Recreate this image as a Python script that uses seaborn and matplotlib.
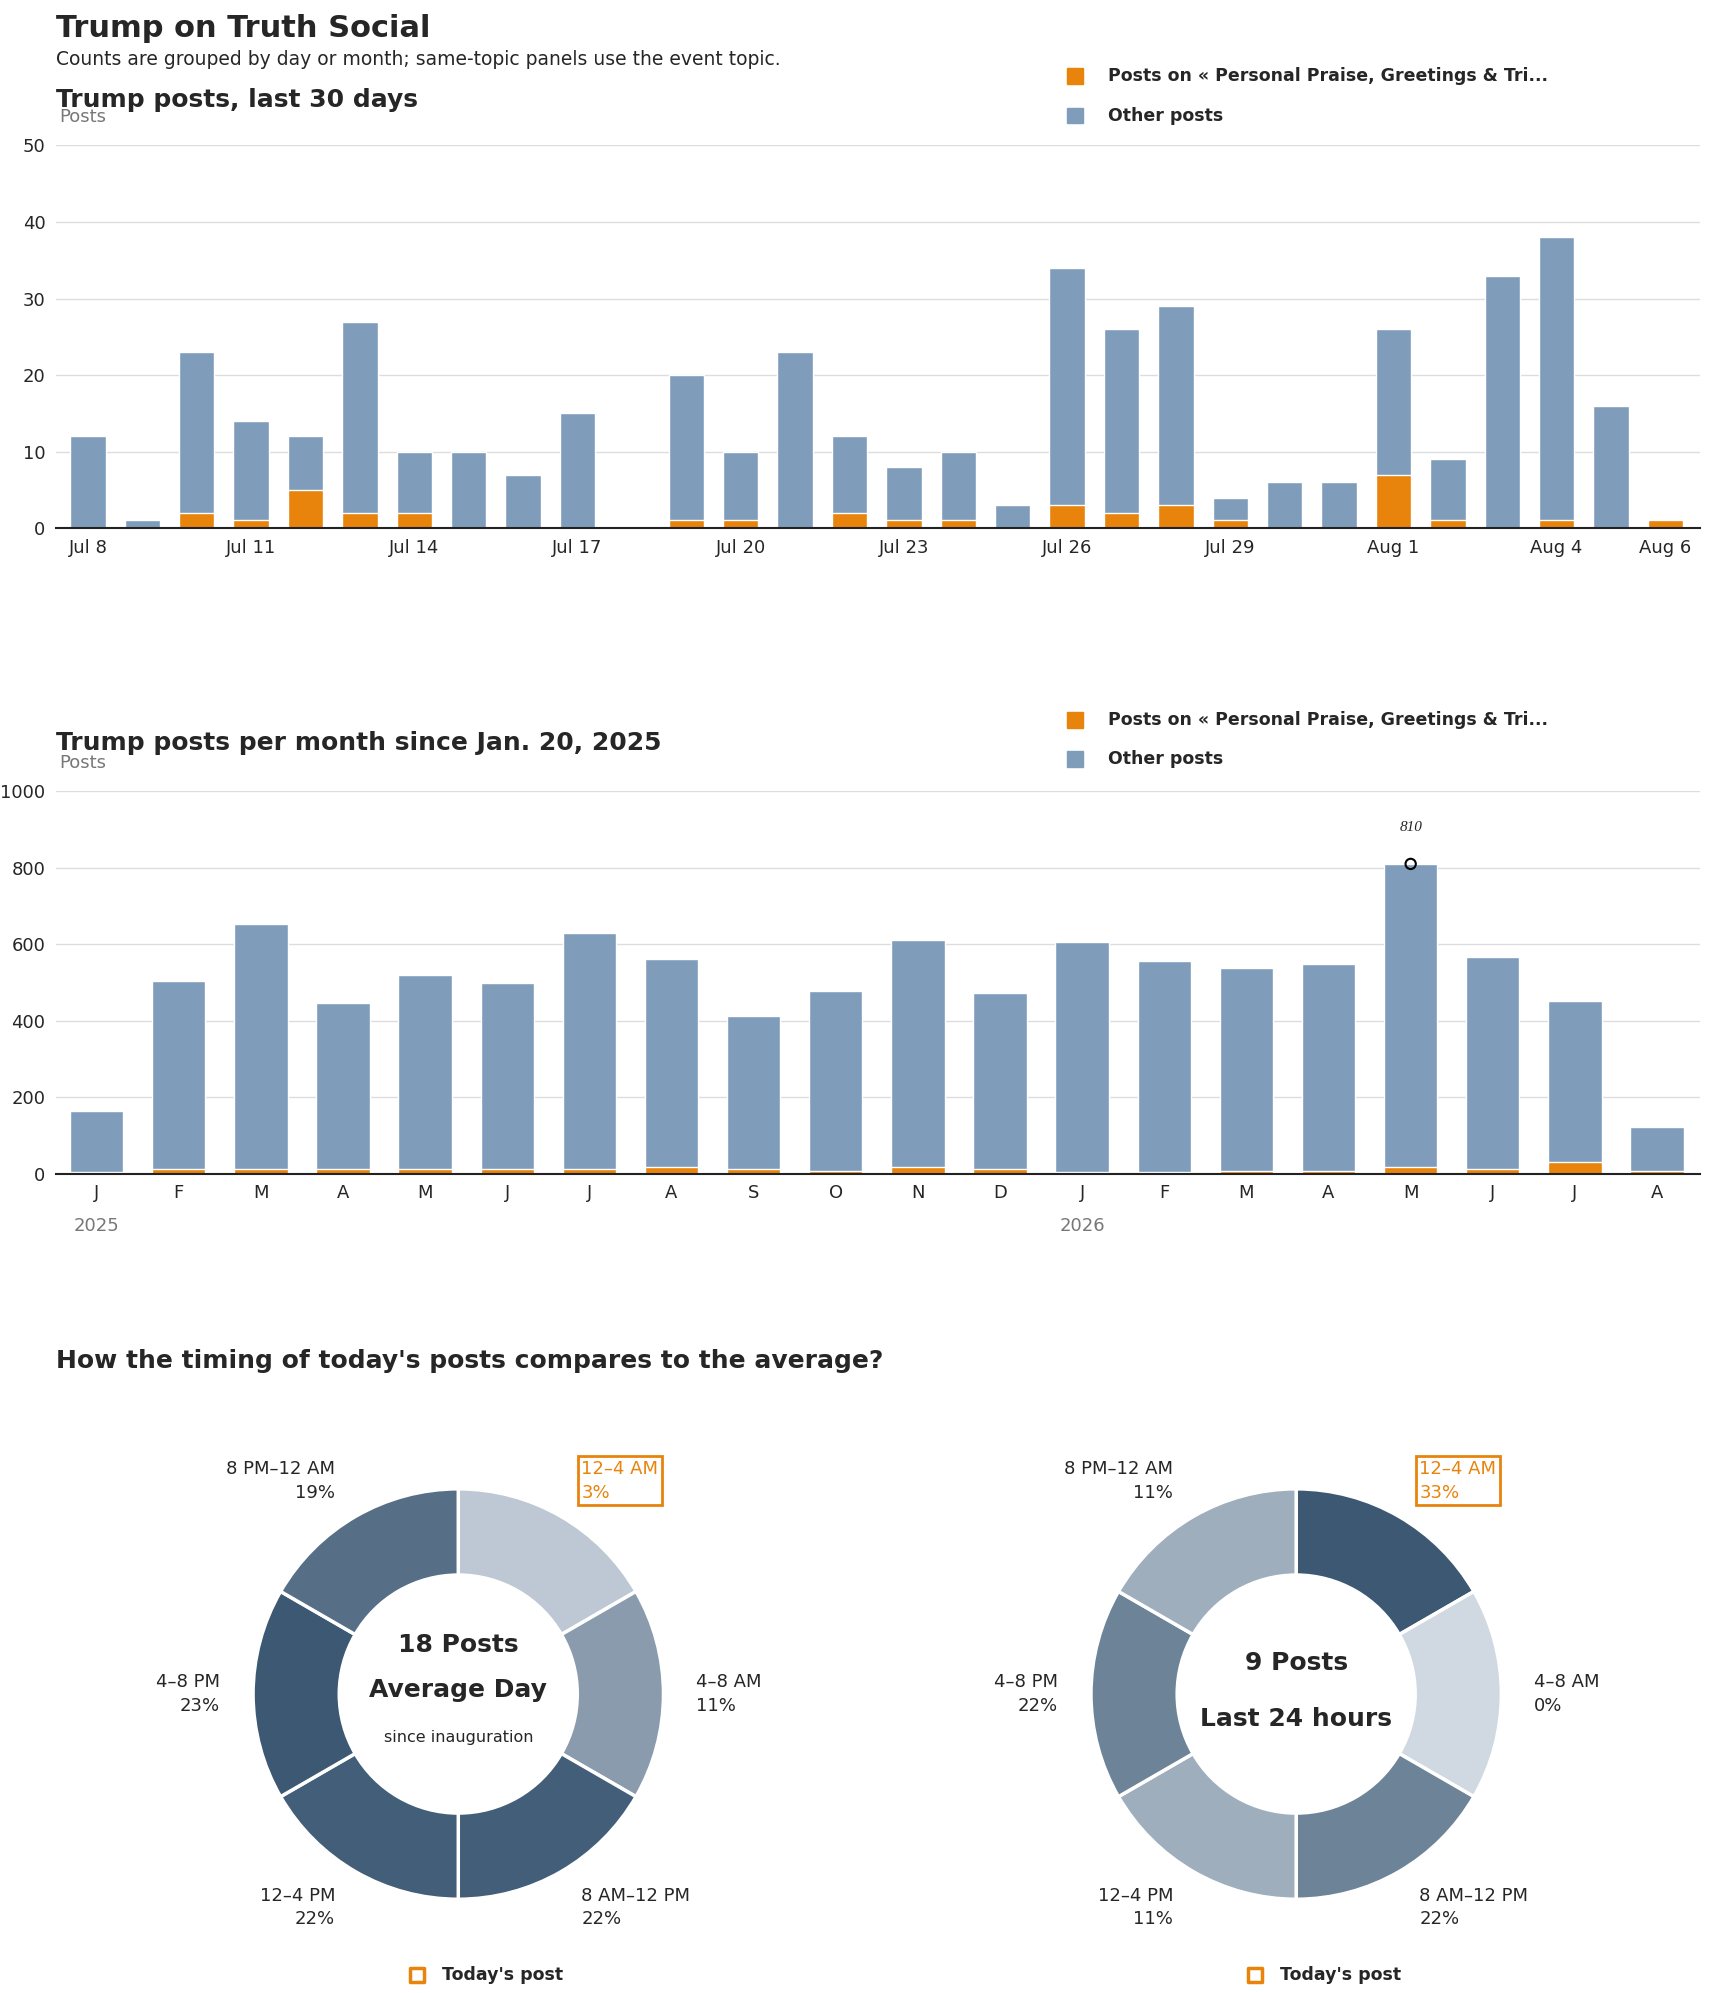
import numpy as np
import pandas as pd
import matplotlib
import matplotlib.pyplot as plt
import seaborn as sns
from matplotlib.colors import to_rgb

matplotlib.use('Agg')

# ---- data ----
days = pd.date_range('2025-07-08', '2025-08-06').strftime('%b %-d').tolist()
day_total = [12, 1, 23, 14, 12, 27, 10, 10, 7, 15, 0, 20, 10, 23, 12, 8, 10, 3,
             34, 26, 29, 4, 6, 6, 26, 9, 33, 38, 16, 1]
day_topic = [0, 0, 2, 1, 5, 2, 2, 0, 0, 0, 0, 1, 1, 0, 2, 1, 1, 0,
             3, 2, 3, 1, 0, 0, 7, 1, 0, 1, 0, 1]

months = ['J', 'F', 'M', 'A', 'M', 'J', 'J', 'A', 'S', 'O', 'N', 'D',
          'J', 'F', 'M', 'A', 'M', 'J', 'J', 'A']
month_total = [165, 505, 653, 447, 520, 500, 630, 562, 413, 478, 612, 473,
               606, 557, 538, 549, 810, 567, 452, 123]
month_topic = [5, 12, 12, 12, 12, 12, 12, 18, 12, 8, 18, 12,
               5, 5, 8, 8, 18, 12, 30, 8]

slots = ['12–4 AM', '4–8 AM', '8 AM–12 PM', '12–4 PM', '4–8 PM', '8 PM–12 AM']
avg_share = [3, 11, 22, 22, 23, 19]
today_share = [33, 0, 22, 11, 22, 11]

BLUE = '#7f9dba'
ORANGE = '#e8830c'
LEGEND_TOPIC = 'Posts on « Personal Praise, Greetings & Tri...'

sns.set_theme(style='white')
plt.rcParams['font.family'] = ['DejaVu Sans']

fig = plt.figure(figsize=(17.1, 19.93), dpi=100)


def bar_panel(rect, labels, total, topic, ymax, step, ylim_pad):
    ax = fig.add_axes(rect)
    df = pd.DataFrame({'x': range(len(labels)), 'total': total, 'topic': topic})
    sns.barplot(data=df, x='x', y='total', color=BLUE, width=0.65, ax=ax,
                saturation=1, native_scale=True)
    sns.barplot(data=df, x='x', y='topic', color=ORANGE, width=0.65, ax=ax,
                saturation=1, native_scale=True)
    ax.set_xlim(*ylim_pad)
    ax.set_ylim(0, ymax)
    ax.set_yticks(np.arange(0, ymax + 1, step))
    ax.yaxis.grid(True, color='#dddddd', lw=1)
    ax.set_axisbelow(True)
    for s in ['top', 'right', 'left']:
        ax.spines[s].set_visible(False)
    ax.spines['bottom'].set_color('#222222')
    ax.spines['bottom'].set_linewidth(1.5)
    ax.tick_params(axis='y', length=0, labelsize=13, pad=8)
    ax.tick_params(axis='x', length=4, labelsize=13, color='#222222')
    ax.set_xlabel('')
    ax.set_ylabel('')
    ax.text(0.002, 1.075, 'Posts', transform=ax.transAxes, fontsize=13,
            color='#777777', ha='left', va='center')
    return ax


def legend(y_px):
    for i, (c, t) in enumerate([(ORANGE, LEGEND_TOPIC), (BLUE, 'Other posts')]):
        yy = 1 - (y_px + i * 31) / 1570
        fig.patches.append(plt.Rectangle((0.624, yy - 0.004), 0.0095, 0.008,
                                         color=c, transform=fig.transFigure))
        fig.text(0.648, yy, t, fontsize=12.5, fontweight='bold', va='center')


# titles
fig.text(0.033, 0.993, 'Trump on Truth Social', fontsize=22, fontweight='bold', va='top')
fig.text(0.033, 0.975, 'Counts are grouped by day or month; same-topic panels use the event topic.',
         fontsize=13.5, va='top')

# daily panel
fig.text(0.033, 0.956, 'Trump posts, last 30 days', fontsize=18, fontweight='bold', va='top')
ax1 = bar_panel([0.033, 0.735, 0.961, 0.192], days, day_total, day_topic, 50, 10, (-0.58, 29.63))
ticks = list(range(0, 30, 3)) + [29]
ax1.set_xticks(ticks)
ax1.set_xticklabels([days[i] for i in ticks])
legend(60)

# monthly panel
fig.text(0.033, 0.633, 'Trump posts per month since Jan. 20, 2025', fontsize=18,
         fontweight='bold', va='top')
ax2 = bar_panel([0.033, 0.411, 0.961, 0.192], months, month_total, month_topic, 1000, 200, (-0.49, 19.52))
ax2.set_xticks(range(len(months)))
ax2.set_xticklabels(months)
for i, yr in [(0, '2025'), (12, '2026')]:
    ax2.text(i, -0.137, yr, transform=ax2.get_xaxis_transform(), fontsize=13,
             color='#777777', ha='center', va='center')
peak = int(np.argmax(month_total))
ax2.scatter([peak], [month_total[peak]], s=55, facecolor='none', edgecolor='black', lw=1.5, zorder=5)
ax2.text(peak, month_total[peak] + 95, str(month_total[peak]), fontsize=11,
         style='italic', ha='center', va='center', family='Liberation Serif')
legend(567)

# donuts
fig.text(0.033, 0.323, "How the timing of today's posts compares to the average?",
         fontsize=18, fontweight='bold', va='top')

light = np.array(to_rgb('#d0d9e2'))
dark = np.array(to_rgb('#3c5873'))


def donut(cx, shares, lines):
    ax = fig.add_axes([cx - 0.192, 0.150 - 0.165, 0.384, 0.33])
    mx = max(shares)
    cols = [tuple(light + (dark - light) * (s / mx)) for s in shares]
    ax.pie([1] * 6, colors=cols, startangle=90, counterclock=False, radius=1,
           wedgeprops=dict(width=0.42, edgecolor='white', linewidth=2.5))
    ax.set_xlim(-1.6, 1.6)
    ax.set_ylim(-1.6, 1.6)
    ax.set_aspect('equal')
    for k, (lab, s) in enumerate(zip(slots, shares)):
        ang = np.deg2rad(60 - 60 * k)
        r = 1.16 if k in (1, 4) else 1.2
        x, y = r * np.cos(ang), r * np.sin(ang)
        ha = 'left' if x > 0.01 else 'right'
        if k == 0:
            ax.text(x, y, f'{lab}\n{s}%', ha=ha, va='center', fontsize=13, color=ORANGE,
                    linespacing=1.4,
                    bbox=dict(boxstyle='square,pad=0.2', fc='white', ec=ORANGE, lw=2))
        else:
            ax.text(x, y, f'{lab}\n{s}%', ha=ha, va='center', fontsize=13,
                    linespacing=1.4, multialignment='right' if ha == 'right' else 'left')
    for txt, yy, fs, fw in lines:
        ax.text(0, yy, txt, ha='center', va='center', fontsize=fs, fontweight=fw)
    ax.scatter([-0.2], [-1.37], marker='s', s=110, facecolor='white', edgecolor=ORANGE,
               lw=2.5, clip_on=False)
    ax.text(-0.08, -1.37, "Today's post", fontsize=12.5, fontweight='bold', va='center')


donut(0.268, avg_share, [('18 Posts', 0.24, 18, 'bold'), ('Average Day', 0.02, 18, 'bold'),
                         ('since inauguration', -0.21, 11.5, 'normal')])
donut(0.758, today_share, [('9 Posts', 0.15, 18, 'bold'), ('Last 24 hours', -0.12, 18, 'bold')])

fig.savefig('out.png', dpi=100)
